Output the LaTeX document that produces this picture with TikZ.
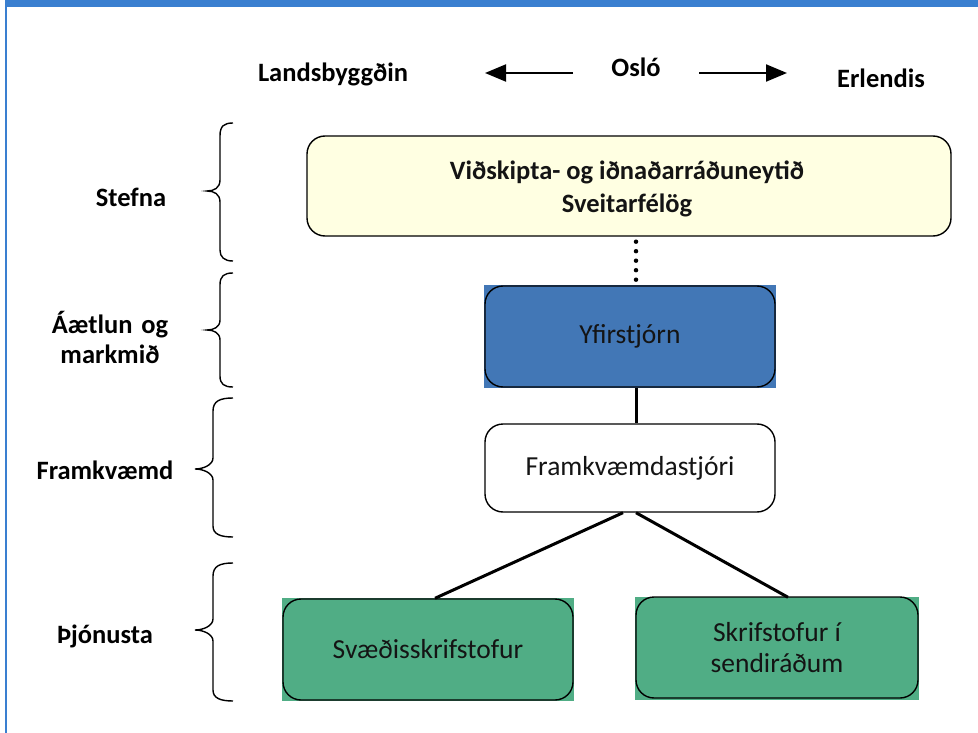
\documentclass[tikz,border=0pt]{standalone}
\usepackage{fontspec}
\setmainfont{Carlito}
\usetikzlibrary{arrows.meta,backgrounds}
\definecolor{frameblue}{RGB}{58,127,208}
\definecolor{boardblue}{RGB}{66,119,182}
\definecolor{unitgreen}{RGB}{80,173,133}
\definecolor{policyyellow}{RGB}{255,255,226}
\definecolor{boxtext}{RGB}{20,20,20}
\tikzset{
  orgbox/.style={draw=black, line width=1.4pt, rounded corners=18pt, inner sep=0pt,
    align=center, text=boxtext, font=\fontsize{27.5}{31}\selectfont},
  sidelabel/.style={font=\bfseries\fontsize{26.5}{30}\selectfont, align=center, inner sep=0pt},
  bracepath/.style={line width=1.4pt},
  solidlink/.style={line width=3pt},
  dotlink/.style={line width=4.5pt, line cap=round, dash pattern=on 0pt off 9.5pt},
  dirarrow/.style={line width=2pt, -{Triangle[length=21pt,width=17pt]}}
}
\begin{document}
\begin{tikzpicture}[x=1pt,y=-1pt]
\useasboundingbox (0,0) rectangle (978,733);
% frame
\fill[frameblue] (5,0) rectangle (978,7);
\fill[frameblue] (4.8,0) rectangle (7.2,733);

% top direction labels
\node[sidelabel, anchor=base] (land) at (333,82) {Landsbyggðin};
\node[sidelabel, anchor=base] (oslo) at (636,77) {Osló};
\node[sidelabel, anchor=base] (erl) at (881,88) {Erlendis};
\coordinate (lfrom) at (573,73);
\coordinate (lto) at (485,73);
\coordinate (rfrom) at (699,73);
\coordinate (rto) at (787,73);
\draw[dirarrow] (lfrom) -- (lto);
\draw[dirarrow] (rfrom) -- (rto);

% boxes
\node[orgbox, fill=policyyellow, minimum width=644pt, minimum height=100pt,
  font=\bfseries\fontsize{26.5}{33}\selectfont] (pol) at (629,186) {};
\node[font=\bfseries\fontsize{26.5}{33}\selectfont, align=center, text=boxtext, inner sep=0pt]
  (poltext) at (627,188.5) {Viðskipta- og iðnaðarráðuneytið\\Sveitarfélög};
\node[orgbox, minimum width=290pt, minimum height=101pt] (yf) at (630,336.5) {Yfirstjórn};
\node[orgbox, fill=white, minimum width=290pt, minimum height=88pt] (fk) at (630,468) {Framkvæmdastjóri};
\node[orgbox, minimum width=290pt, minimum height=101pt] (sv) at (428,649.5) {Svæðisskrifstofur};
\node[orgbox, minimum width=282pt, minimum height=101pt] (sk) at (777,647.5) {Skrifstofur í\\sendiráðum};

\begin{scope}[on background layer]
  \fill[boardblue] (yf.south west) rectangle (yf.north east);
  \fill[unitgreen] (sv.south west) rectangle (sv.north east);
  \fill[unitgreen] ([yshift=-1pt]sk.south west) rectangle ([yshift=-1pt]sk.north east);
\end{scope}

% connectors
\draw[dotlink] ([xshift=7pt,yshift=-5pt]pol.south) -- ([xshift=6pt,yshift=3pt]yf.north);
\draw[solidlink] ([xshift=6pt]yf.south) -- ([xshift=6pt]fk.north);
\draw[solidlink] ([xshift=-7pt]fk.south) -- ([xshift=7pt]sv.north);
\draw[solidlink] ([xshift=6pt]fk.south) -- ([xshift=11pt,yshift=-1pt]sk.north);

% side labels
\node[sidelabel, anchor=base] (stefna) at (131,207) {Stefna};
\node[sidelabel, text width=150pt] (aetl) at (110,337) {Áætlun og\\markmið};
\node[sidelabel, anchor=base] (framkv) at (105,479) {Framkvæmd};
\node[sidelabel, anchor=base] (thjon) at (105,643) {Þjónusta};

% braces
\draw[bracepath] (233,123) .. controls (224,123) and (220,126) .. (220,136) -- (220,180)
  .. controls (220,188) and (214,191) .. (207,191)
  .. controls (214,191) and (220,194) .. (220,202) -- (220,250)
  .. controls (220,257) and (224,261) .. (233,261);
\draw[bracepath] (233,273) .. controls (224,273) and (220,276) .. (220,285) -- (220,320)
  .. controls (220,327) and (214,330) .. (207,330)
  .. controls (214,330) and (220,333) .. (220,340) -- (220,376)
  .. controls (220,384) and (224,387) .. (233,387);
\draw[bracepath] (233,398) .. controls (220,398) and (213,401) .. (213,411) -- (213,458)
  .. controls (213,465) and (203,469) .. (195,469)
  .. controls (203,469) and (213,473) .. (213,480) -- (213,526)
  .. controls (213,534) and (220,537) .. (233,537);
\draw[bracepath] (233,563) .. controls (220,563) and (213,566) .. (213,576) -- (213,619)
  .. controls (213,626) and (203,630) .. (195,630)
  .. controls (203,630) and (213,634) .. (213,641) -- (213,690)
  .. controls (213,698) and (220,701) .. (233,701);
\end{tikzpicture}
\end{document}
